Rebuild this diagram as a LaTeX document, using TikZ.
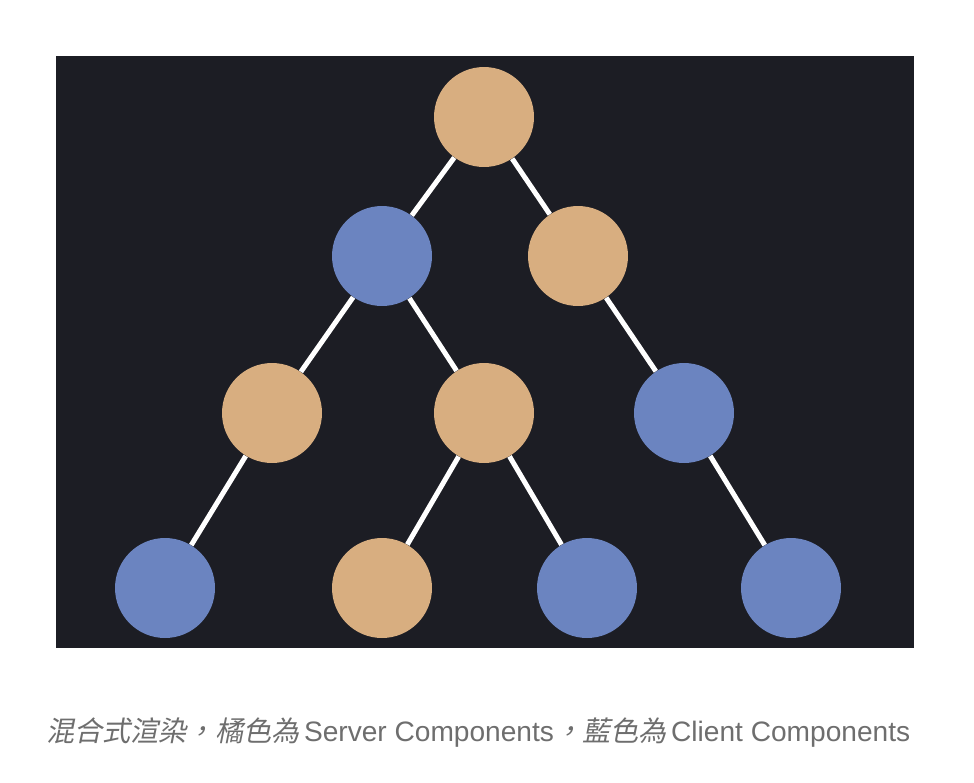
\documentclass[tikz,border=0pt]{standalone}
\usepackage{fontspec}
\newfontfamily\cjkit[FakeSlant=0.2]{Noto Sans CJK TC}
\newfontfamily\latinup{Liberation Sans}
\usetikzlibrary{positioning}
\definecolor{boarddark}{RGB}{28,29,36}
\definecolor{serverorange}{RGB}{216,174,128}
\definecolor{clientblue}{RGB}{107,132,192}
\definecolor{captiongray}{RGB}{110,110,110}

\begin{document}
\begin{tikzpicture}[x=0.02cm,y=-0.02cm,
  comp/.style={circle,minimum size=2cm,inner sep=0pt},
  server/.style={comp,fill=serverorange},
  client/.style={comp,fill=clientblue},
  link/.style={white,line width=0.1cm}]
\useasboundingbox (0,0) rectangle (974,782);
\fill[boarddark] (56,56) rectangle (914,648);
\node[server] (root) at (484,117) {};
\node[client] (c1) at (382,256) {};
\node[server] (s1) at (578,256) {};
\node[server] (s2) at (272,413) {};
\node[server] (s3) at (484,413) {};
\node[client] (c2) at (684,413) {};
\node[client] (c3) at (165,588) {};
\node[server] (s4) at (382,588) {};
\node[client] (c4) at (587,588) {};
\node[client] (c5) at (791,588) {};
\draw[link] (root) -- (c1);
\draw[link] (root) -- (s1);
\draw[link] (c1) -- (s2);
\draw[link] (c1) -- (s3);
\draw[link] (s1) -- (c2);
\draw[link] (s2) -- (c3);
\draw[link] (s3) -- (s4);
\draw[link] (s3) -- (c4);
\draw[link] (c2) -- (c5);
\node[anchor=west,text=captiongray,font=\fontsize{16pt}{20pt}\selectfont,inner sep=0pt] (caption) at (46,733)
  {{\cjkit 混合式渲染，橘色為}\,{\latinup Server Components}{\cjkit ，藍色為}\,{\latinup Client Components}};
\end{tikzpicture}
\end{document}
